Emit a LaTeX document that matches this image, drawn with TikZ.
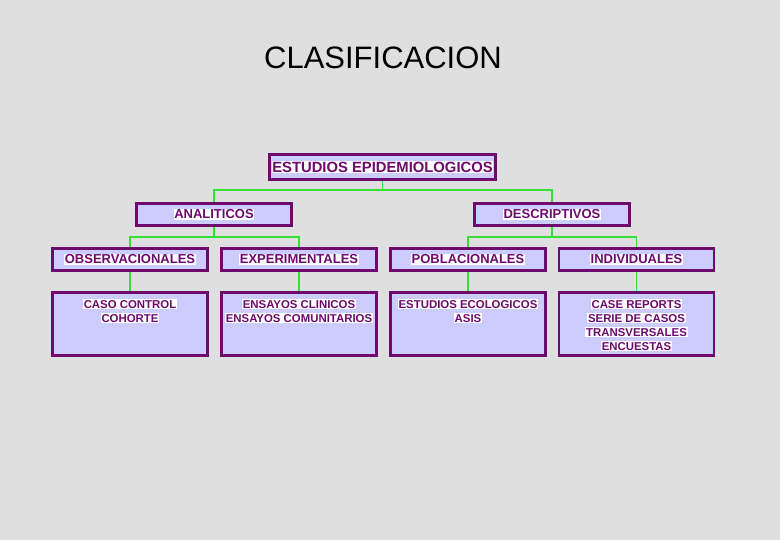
\documentclass[tikz,border=0pt]{standalone}
\usepackage{fontspec}
\setmainfont{Liberation Sans}
\usetikzlibrary{positioning}
\definecolor{fondo}{HTML}{DFDFDF}
\definecolor{lila}{HTML}{CCCCFF}
\definecolor{morado}{HTML}{6E0A6E}
\definecolor{verde}{HTML}{33E033}
\newcommand{\resalta}[1]{{\setlength{\fboxsep}{0.7pt}\colorbox{white}{#1}}}

\begin{document}
\begin{tikzpicture}[%
x=1pt, y=-1pt,
caja/.style={draw=morado, fill=lila, line width=2.6pt, inner sep=0pt},
rama/.style={caja, minimum width=155pt, minimum height=22pt},
hoja/.style={caja, minimum width=155pt, minimum height=63pt},
texto/.style={text=morado, font=\bfseries\fontsize{11.4}{14}\selectfont, align=center, inner sep=0pt},
textorama/.style={text=morado, font=\bfseries\fontsize{13}{15}\selectfont, inner sep=0pt},
enlace/.style={draw=verde, line width=1.7pt},
]

\useasboundingbox[fill=fondo] (0,0) rectangle (780,540);

\node(titulo) at (383,58){\fontsize{31}{36}\selectfont CLASIFICACION};

% raiz
\node[caja, minimum width=226pt, minimum height=25pt](ee) at (382.5,167){};
\node[textorama, font=\bfseries\fontsize{14.8}{17}\selectfont](eet) at (ee){\resalta{ESTUDIOS EPIDEMIOLOGICOS}};

% segundo nivel
\node[rama](an) at (214,214.5){};
\node[textorama](ant) at (an){\resalta{ANALITICOS}};
\node[rama](de) at (552,214.5){};
\node[textorama](det) at (de){\resalta{DESCRIPTIVOS}};

% tercer nivel
\node[rama](ob) at (130,259.5){};
\node[textorama](obt) at (ob){\resalta{OBSERVACIONALES}};
\node[rama](ex) at (299,259.5){};
\node[textorama](ext) at (ex){\resalta{EXPERIMENTALES}};
\node[rama](po) at (468,259.5){};
\node[textorama](pot) at (po){\resalta{POBLACIONALES}};
\node[rama](in) at (636.5,259.5){};
\node[textorama](int) at (in){\resalta{INDIVIDUALES}};

% hojas
\node[hoja](obh) at (130,324){};
\node[texto, below=8pt of obh.north](obht){\resalta{CASO CONTROL}\\\resalta{COHORTE}};
\node[hoja](exh) at (299,324){};
\node[texto, below=8pt of exh.north](exht){\resalta{ENSAYOS CLINICOS}\\\resalta{ENSAYOS COMUNITARIOS}};
\node[hoja](poh) at (468,324){};
\node[texto, below=8pt of poh.north](poht){\resalta{ESTUDIOS ECOLOGICOS}\\\resalta{ASIS}};
\node[hoja](inh) at (636.5,324){};
\node[texto, below=8pt of inh.north](inht){\resalta{CASE REPORTS}\\\resalta{SERIE DE CASOS}\\\resalta{TRANSVERSALES}\\\resalta{ENCUESTAS}};

% enlaces
\draw[enlace] (ee.south)--++(0,9) -| (an.north);
\draw[enlace] (ee.south)--++(0,9) -| (de.north);
\draw[enlace] (an.south)--++(0,10) -| (ob.north);
\draw[enlace] (an.south)--++(0,10) -| (ex.north);
\draw[enlace] (de.south)--++(0,10) -| (po.north);
\draw[enlace] (de.south)--++(0,10) -| (in.north);
\draw[enlace] (ob.south)--(obh.north);
\draw[enlace] (ex.south)--(exh.north);
\draw[enlace] (po.south)--(poh.north);
\draw[enlace] (in.south)--(inh.north);

\end{tikzpicture}
\end{document}
